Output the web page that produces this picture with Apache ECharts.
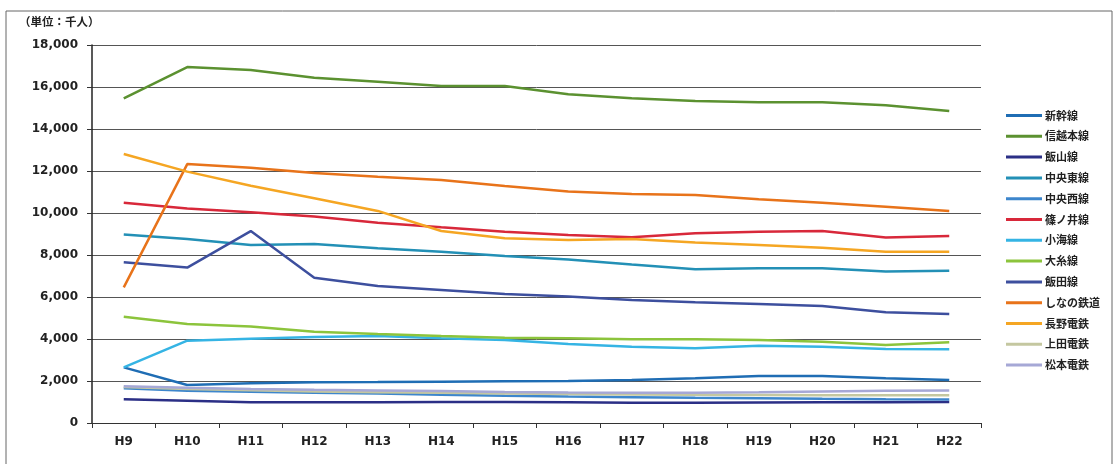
<!DOCTYPE html>
<html>
<head>
<meta charset="utf-8">
<script src="https://cdn.jsdelivr.net/npm/echarts@6/dist/echarts.min.js"></script>
<style>
  html, body { margin: 0; padding: 0; background: #fff; }
  #chart { width: 1119px; height: 464px; }
</style>
</head>
<body>
<div id="chart"></div>
<script>
// Annual ridership per line, thousands of passengers
const years = ['H9','H10','H11','H12','H13','H14','H15','H16','H17','H18','H19','H20','H21','H22'];
const yTicks = [0, 2000, 4000, 6000, 8000, 10000, 12000, 14000, 16000, 18000];

const shinkansen   = [2650, 1810, 1890, 1940, 1950, 1970, 1990, 2000, 2050, 2130, 2240, 2240, 2130, 2050];
const shinetsu     = [15460, 16950, 16810, 16440, 16250, 16050, 16050, 15650, 15460, 15330, 15270, 15270, 15130, 14860];
const iiyama       = [1130, 1060, 985, 985, 990, 1000, 1000, 990, 970, 970, 980, 990, 990, 1000];
const chuoEast     = [8980, 8760, 8480, 8520, 8320, 8160, 7950, 7790, 7550, 7320, 7370, 7370, 7210, 7250];
const chuoWest     = [1650, 1540, 1490, 1440, 1400, 1350, 1300, 1260, 1230, 1200, 1180, 1150, 1130, 1120];
const shinonoi     = [10490, 10220, 10030, 9830, 9540, 9320, 9110, 8950, 8840, 9030, 9110, 9140, 8830, 8900];
const koumi        = [2650, 3920, 4010, 4100, 4140, 4030, 3950, 3760, 3630, 3560, 3680, 3630, 3520, 3510];
const oito         = [5060, 4710, 4590, 4350, 4240, 4140, 4060, 4030, 3990, 3990, 3950, 3870, 3710, 3840];
const iida         = [7650, 7400, 9140, 6920, 6520, 6330, 6140, 6020, 5860, 5750, 5670, 5570, 5270, 5190];
const shinanoRail  = [6460, 12330, 12160, 11900, 11730, 11570, 11290, 11020, 10900, 10860, 10650, 10490, 10300, 10100];
const naganoDentetsu = [12810, 11970, 11300, 10700, 10100, 9140, 8800, 8710, 8760, 8600, 8480, 8350, 8160, 8160];
const uedaDentetsu = [1720, 1620, 1560, 1500, 1470, 1440, 1400, 1380, 1360, 1340, 1330, 1320, 1320, 1320];
const matsumotoDentetsu = [1750, 1680, 1620, 1580, 1550, 1520, 1480, 1450, 1440, 1440, 1460, 1500, 1530, 1550];

const lines = [
  { name: '新幹線',     data: shinkansen,        color: '#1f6db4' },
  { name: '信越本線',   data: shinetsu,          color: '#5b9130' },
  { name: '飯山線',     data: iiyama,            color: '#2b2f86' },
  { name: '中央東線',   data: chuoEast,          color: '#2390b6' },
  { name: '中央西線',   data: chuoWest,          color: '#3d86cc' },
  { name: '篠ノ井線',   data: shinonoi,          color: '#d8283a' },
  { name: '小海線',     data: koumi,             color: '#35b4e4' },
  { name: '大糸線',     data: oito,              color: '#8cc43c' },
  { name: '飯田線',     data: iida,              color: '#3d4f9e' },
  { name: 'しなの鉄道', data: shinanoRail,       color: '#e8731a' },
  { name: '長野電鉄',   data: naganoDentetsu,    color: '#f5a623' },
  { name: '上田電鉄',   data: uedaDentetsu,      color: '#c4c7a0' },
  { name: '松本電鉄',   data: matsumotoDentetsu, color: '#a6a8d6' }
];

const numFont = 'DejaVu Sans';
const jpFont = '"Noto Sans CJK JP", "Noto Sans", sans-serif';

const chart = echarts.init(document.getElementById('chart'), null, { renderer: 'canvas' });

chart.setOption({
  backgroundColor: '#ffffff',
  animation: false,
  title: {
    text: '（単位：千人）',
    left: 14,
    top: 11,
    textStyle: { fontFamily: jpFont, fontSize: 11.5, fontWeight: 'bold', color: '#222' }
  },
  graphic: [{
    type: 'rect',
    shape: { x: 6, y: 11, width: 1106, height: 470 },
    style: { fill: 'none', stroke: '#666', lineWidth: 1 },
    silent: true,
    z: -1
  }],
  legend: {
    orient: 'vertical',
    left: 1001,
    top: 105,
    icon: 'rect',
    itemWidth: 36,
    itemHeight: 3,
    itemGap: 9.8,
    textStyle: { fontFamily: jpFont, fontSize: 11, fontWeight: 'bold', color: '#222', padding: [0, 0, 0, -2] },
    data: lines.map(l => l.name)
  },
  grid: { left: 92, right: 138, top: 45, bottom: 41, containLabel: false },
  xAxis: {
    type: 'category',
    data: years,
    boundaryGap: true,
    axisLine: { lineStyle: { color: '#333', width: 1 } },
    axisTick: { show: true, length: 5, lineStyle: { color: '#333' } },
    axisLabel: { margin: 13, fontFamily: numFont, fontSize: 12, fontWeight: 'bold', color: '#222' },
    splitLine: { show: false }
  },
  yAxis: {
    type: 'value',
    min: yTicks[0],
    max: yTicks[yTicks.length - 1],
    interval: 2000,
    axisLine: { show: true, lineStyle: { color: '#222', width: 1.5 } },
    axisTick: { show: true, length: 5, inside: false, lineStyle: { color: '#333' } },
    axisLabel: {
      margin: 14,
      fontFamily: numFont, fontSize: 12, fontWeight: 'bold', color: '#222',
      formatter: v => v.toLocaleString('en-US')
    },
    splitLine: { show: true, lineStyle: { color: '#555', width: 1 } }
  },
  series: lines.map(l => ({
    name: l.name,
    type: 'line',
    data: l.data,
    symbol: 'none',
    smooth: false,
    color: l.color,
    lineStyle: { color: l.color, width: 2.5 }
  }))
});
</script>
</body>
</html>
